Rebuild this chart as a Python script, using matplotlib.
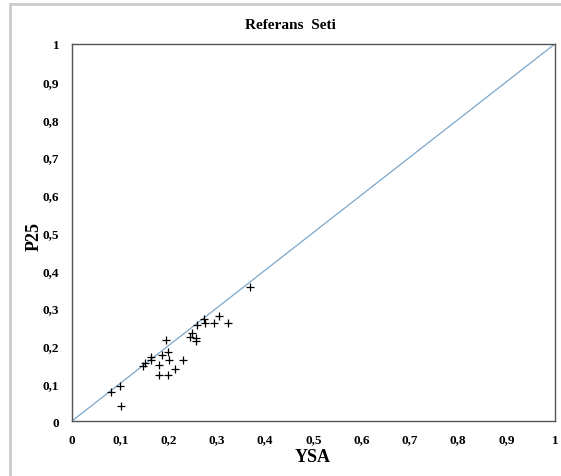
import matplotlib.pyplot as plt
from matplotlib.patches import Rectangle
from matplotlib.ticker import FuncFormatter

# okunan noktalar (YSA, P25)
ysa = [0.081, 0.100, 0.101, 0.148, 0.151, 0.163, 0.164, 0.180, 0.180, 0.187,
       0.194, 0.199, 0.201, 0.198, 0.214, 0.230, 0.244, 0.248, 0.257, 0.257,
       0.258, 0.274, 0.275, 0.295, 0.304, 0.324, 0.369]
p25 = [0.077, 0.093, 0.040, 0.146, 0.154, 0.162, 0.170, 0.148, 0.123, 0.174,
       0.215, 0.183, 0.162, 0.123, 0.137, 0.161, 0.222, 0.233, 0.221, 0.211,
       0.254, 0.270, 0.261, 0.259, 0.278, 0.259, 0.355]
ref = [0, 1]
ticks = [0, 0.1, 0.2, 0.3, 0.4, 0.5, 0.6, 0.7, 0.8, 0.9, 1]

plt.rcParams['font.family'] = ['Liberation Serif', 'DejaVu Serif']

fig = plt.figure(figsize=(5.61, 4.77), dpi=100)
ax = fig.add_axes([0.1283, 0.1153, 0.8607, 0.7904])

ax.plot(ref, ref, color='#7ba7cc', lw=0.9)
ax.scatter(ysa, p25, marker='+', color='black', s=36, lw=0.9, zorder=3)

ax.set_xlim(0, 1)
ax.set_ylim(0, 1)
ax.set_xticks(ticks)
ax.set_yticks(ticks)
fmt = FuncFormatter(lambda v, p: ('%g' % v).replace('.', ','))
ax.xaxis.set_major_formatter(fmt)
ax.yaxis.set_major_formatter(fmt)
ax.tick_params(length=0, labelsize=9.5, pad=9)
for t in ax.get_xticklabels() + ax.get_yticklabels():
    t.set_fontweight('bold')
for s in ax.spines.values():
    s.set_color('#555555')
    s.set_linewidth(1.0)

# eksen başlıkları
fig.text(0.558, 0.040, 'YSA', ha='center', va='center',
         fontsize=13, fontweight='bold')
fig.text(0.0606, 0.505, 'P25', ha='center', va='center', rotation=90,
         fontsize=13, fontweight='bold')
fig.text(0.517, 0.947, 'Referans  Seti', ha='center', va='center',
         fontsize=11, fontweight='bold')

# grafik alanı çerçevesi
fig.patches.append(Rectangle((10/561, -0.1), 1.2, 1.09, transform=fig.transFigure,
                             fill=False, edgecolor='#cccccc', lw=2))

fig.savefig('out.png', dpi=100)
